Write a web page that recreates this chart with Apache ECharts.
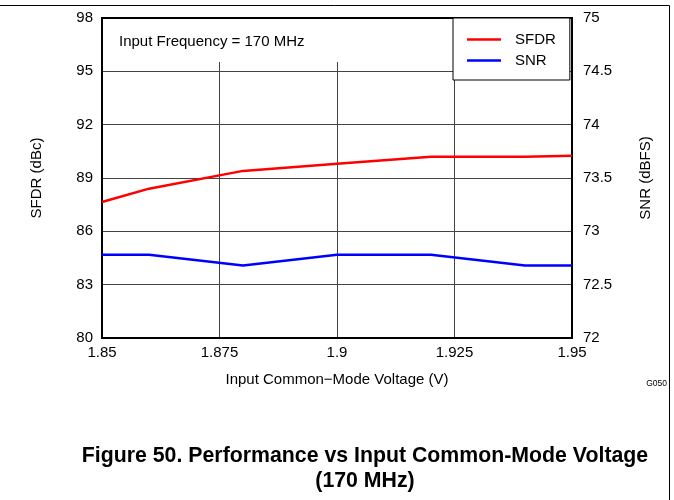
<!DOCTYPE html>
<html>
<head>
<meta charset="utf-8">
<script src="https://cdn.jsdelivr.net/npm/echarts@6/dist/echarts.min.js"></script>
<style>
html,body{margin:0;padding:0;background:#fff;}
#chart{width:674px;height:500px;}
</style>
</head>
<body>
<div id="chart"></div>
<script>
var voltage = [1.85, 1.86, 1.88, 1.90, 1.92, 1.94, 1.95];
var sfdr = [87.65, 88.4, 89.4, 89.8, 90.2, 90.2, 90.25];
var snr = [72.78, 72.78, 72.68, 72.78, 72.78, 72.68, 72.68];
var seriesNames = ['SFDR', 'SNR'];
var xTicks = {min: 1.85, max: 1.95, interval: 0.025};
var leftTicks = {min: 80, max: 98, interval: 3};
var rightTicks = {min: 72, max: 75, interval: 0.5};

var FONT = 'Liberation Sans, Arial, sans-serif';
var chart = echarts.init(document.getElementById('chart'), null, {renderer: 'canvas'});
var pair = function (xs, ys) { return xs.map(function (x, i) { return [x, ys[i]]; }); };

var option = {
  animation: false,
  backgroundColor: '#fff',
  textStyle: {fontFamily: FONT},
  grid: {left: 102, right: 102, top: 18, bottom: 162, show: true, borderColor: '#000', borderWidth: 2, backgroundColor: 'transparent', z: 3},
  xAxis: {
    type: 'value', min: xTicks.min, max: xTicks.max, interval: xTicks.interval,
    name: 'Input Common\u2212Mode Voltage (V)', nameLocation: 'middle', nameGap: 34,
    nameTextStyle: {fontSize: 15, color: '#000', fontFamily: FONT},
    axisLine: {show: false}, axisTick: {show: false},
    axisLabel: {fontSize: 15, color: '#000', margin: 7, fontFamily: FONT,
      formatter: function (v) { return String(+v.toFixed(3)); }},
    splitLine: {show: true, lineStyle: {color: '#444', width: 1}}
  },
  yAxis: [{
    type: 'value', min: leftTicks.min, max: leftTicks.max, interval: leftTicks.interval, position: 'left',
    name: 'SFDR (dBc)', nameLocation: 'middle', nameGap: 58, nameRotate: 90,
    nameTextStyle: {fontSize: 15, color: '#000', fontFamily: FONT},
    axisLine: {show: false}, axisTick: {show: false},
    axisLabel: {fontSize: 15, color: '#000', margin: 9, fontFamily: FONT},
    splitLine: {show: true, lineStyle: {color: '#444', width: 1}}
  }, {
    type: 'value', min: rightTicks.min, max: rightTicks.max, interval: rightTicks.interval, position: 'right',
    name: 'SNR (dBFS)', nameLocation: 'middle', nameGap: 66, nameRotate: 90,
    nameTextStyle: {fontSize: 15, color: '#000', fontFamily: FONT},
    axisLine: {show: false}, axisTick: {show: false},
    axisLabel: {fontSize: 15, color: '#000', margin: 11, fontFamily: FONT},
    splitLine: {show: false}
  }],
  legend: {
    data: seriesNames, orient: 'vertical', left: 453, top: 18,
    backgroundColor: '#fff', borderColor: '#000', borderWidth: 1,
    padding: [14, 14, 12, 14], itemGap: 6, itemWidth: 34, itemHeight: 2.5,
    icon: 'rect',
    textStyle: {fontSize: 15, color: '#000', fontFamily: FONT, padding: [0, 0, 0, 9]},
    z: 10
  },
  series: [{
    name: seriesNames[0], type: 'line', yAxisIndex: 0, data: pair(voltage, sfdr),
    symbol: 'none', lineStyle: {color: '#ff0000', width: 2.5}, itemStyle: {color: '#ff0000'}
  }, {
    name: seriesNames[1], type: 'line', yAxisIndex: 1, data: pair(voltage, snr),
    symbol: 'none', lineStyle: {color: '#0000ff', width: 2.5}, itemStyle: {color: '#0000ff'}
  }],
  graphic: [
    {type: 'rect', z: 5, shape: {x: 103, y: 19, width: 245, height: 43}, style: {fill: '#fff'}},
    {type: 'text', z: 6, left: 119, top: 34, style: {text: 'Input Frequency = 170 MHz', fontSize: 15, fill: '#000', fontFamily: FONT}},
    {type: 'polyline', z: 6, shape: {points: [[0, 5.5], [669.5, 5.5], [669.5, 500]]}, style: {stroke: '#000', lineWidth: 1, fill: null}},
    {type: 'text', z: 6, right: 7, top: 379, style: {text: 'G050', fontSize: 8.5, fill: '#000', fontFamily: FONT}},
    {type: 'text', z: 6, x: 365, y: 456, style: {text: 'Figure 50. Performance vs Input Common-Mode Voltage', fontSize: 21.3, fontWeight: 'bold', fill: '#000', fontFamily: FONT, align: 'center', verticalAlign: 'middle'}},
    {type: 'text', z: 6, x: 365, y: 481, style: {text: '(170 MHz)', fontSize: 21.3, fontWeight: 'bold', fill: '#000', fontFamily: FONT, align: 'center', verticalAlign: 'middle'}}
  ]
};
chart.setOption(option);
</script>
</body>
</html>
